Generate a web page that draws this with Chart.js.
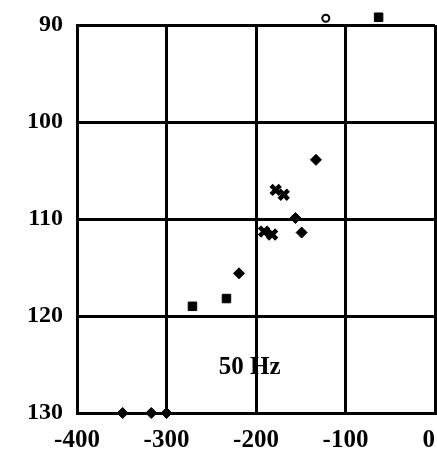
<!DOCTYPE html>
<html>
<head>
<meta charset="utf-8">
<script src="https://cdn.jsdelivr.net/npm/chart.js@4"></script>
<style>
  html, body { margin: 0; padding: 0; background: #fff; }
  #wrap { width: 437px; height: 461px; }
</style>
</head>
<body>
<div id="wrap"><canvas id="chart" width="437" height="461"></canvas></div>
<script>
// ===== data =====
const xTicks = [-400, -300, -200, -100, 0];
const yTicks = [90, 100, 110, 120, 130];

const circlePts = [{ x: -122, y: 89.3 }];
const squarePts = [{ x: -63, y: 89.2 }, { x: -233, y: 118.2 }, { x: -271, y: 119.0 }];
const diamondPts = [
    { x: -133, y: 103.9 }, { x: -156, y: 109.9 }, { x: -149, y: 111.4 },
    { x: -219, y: 115.6 }, { x: -349, y: 130 }, { x: -317, y: 130 }, { x: -300, y: 130 }
];
const crossPts = [{ x: -178, y: 107.0 }, { x: -169, y: 107.5 }, { x: -191, y: 111.3 }, { x: -182, y: 111.6 }];

const noteText = "50 Hz";
const notePos = { x: -207, y: 125.3 };

const FONT = "'Liberation Serif', 'Times New Roman', serif";

// ===== plugins =====
// points a little past the 90 line get skipped by Chart.js, draw them again without the area check
const outsidePoints = {
    id: "outsidePoints",
    afterDatasetsDraw(chart) {
        const area = chart.chartArea;
        const big = { left: -1e4, top: -1e4, right: 1e4, bottom: 1e4 };
        chart.data.datasets.forEach((ds, i) => {
            chart.getDatasetMeta(i).data.forEach(pt => {
                if (pt.y < area.top - 2 || pt.y > area.bottom + 2) pt.draw(chart.ctx, big);
            });
        });
    }
};

const notePlugin = {
    id: "note",
    afterDatasetsDraw(chart) {
        const { ctx, scales } = chart;
        ctx.save();
        ctx.fillStyle = "#000";
        ctx.font = "bold 25px " + FONT;
        ctx.textAlign = "center";
        ctx.textBaseline = "middle";
        ctx.fillText(noteText, scales.x.getPixelForValue(notePos.x), scales.y.getPixelForValue(notePos.y));
        ctx.restore();
    }
};

const ctx = document.getElementById("chart");
new Chart(ctx, {
    type: "scatter",
    data: {
        datasets: [
            { data: circlePts, pointStyle: "circle", pointRadius: 3.5, borderColor: "#000", borderWidth: 2, backgroundColor: "#fff", clip: false },
            { data: squarePts, pointStyle: "rect", pointRadius: 6, borderColor: "#000", borderWidth: 1, backgroundColor: "#000", clip: false },
            { data: diamondPts, pointStyle: "rectRot", pointRadius: 5.5, borderColor: "#000", borderWidth: 1, backgroundColor: "#000", clip: false },
            { data: crossPts, pointStyle: "crossRot", pointRadius: 6.5, borderColor: "#000", borderWidth: 4.5, clip: false }
        ]
    },
    options: {
        responsive: false,
        animation: false,
        layout: { autoPadding: false, padding: { top: 25, right: 2, left: 0, bottom: 0 } },
        plugins: { legend: { display: false }, tooltip: { enabled: false } },
        scales: {
            x: {
                type: "linear",
                min: -400,
                max: 0,
                afterBuildTicks: (s) => { s.ticks = xTicks.map(v => ({ value: v })); },
                afterFit: (s) => { s.height = 48; s.paddingLeft = 0; s.paddingRight = 0; },
                grid: { color: "#000", lineWidth: 3, drawTicks: false },
                border: { color: "#000", width: 3 },
                ticks: {
                    color: "#000", padding: 13, maxRotation: 0,
                    font: { family: FONT, size: 25, weight: "bold" },
                    callback: (v) => v === 0 ? "0  " : String(v)
                }
            },
            y: {
                type: "linear",
                reverse: true,
                min: 90,
                max: 130,
                afterBuildTicks: (s) => { s.ticks = yTicks.map(v => ({ value: v })); },
                afterFit: (s) => { s.width = 77; s.paddingTop = 0; s.paddingBottom = 0; },
                grid: { color: "#000", lineWidth: 3, drawTicks: false },
                border: { color: "#000", width: 3 },
                ticks: { color: "#000", padding: 14, font: { family: FONT, size: 24, weight: "bold" } }
            }
        }
    },
    plugins: [outsidePoints, notePlugin]
});
</script>
</body>
</html>
